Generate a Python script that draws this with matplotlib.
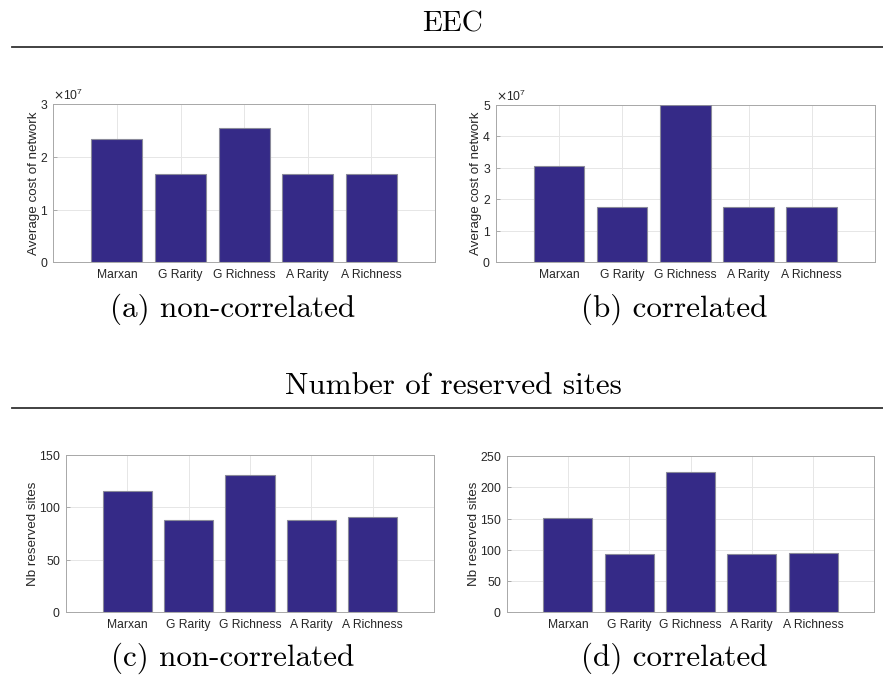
import matplotlib
matplotlib.use("Agg")
import matplotlib.pyplot as plt
from matplotlib.lines import Line2D

# data
methods = ["Marxan", "G Rarity", "G Richness", "A Rarity", "A Richness"]
eec_noncorr = [2.342e7, 1.671e7, 2.557e7, 1.671e7, 1.671e7]
eec_corr = [3.072e7, 1.748e7, 5.0e7, 1.748e7, 1.748e7]
sites_noncorr = [115.5, 88.3, 131.4, 88.3, 90.5]
sites_corr = [150.3, 93.8, 223.9, 93.8, 94.3]

W, H = 883, 675
BAR_COLOR = "#352a87"
plt.rcParams["font.family"] = ["Liberation Sans", "DejaVu Sans"]
plt.rcParams["axes.formatter.use_mathtext"] = True

fig = plt.figure(figsize=(W / 100, H / 100), dpi=100)


def px_axes(left, top, right, bottom):
    return fig.add_axes([left / W, 1 - bottom / H, (right - left) / W, (bottom - top) / H])


def bar_panel(ax, values, ylim, yticks, ylabel):
    x = range(1, len(values) + 1)
    ax.bar(x, values, width=0.8, color=BAR_COLOR, edgecolor="#8a8a9a", linewidth=0.8, zorder=3)
    ax.set_xlim(0, 6)
    ax.set_ylim(*ylim)
    ax.set_xticks(list(x))
    ax.set_xticklabels(methods)
    ax.set_yticks(yticks)
    ax.set_ylabel(ylabel, fontsize=9.6, color="#262626", labelpad=0)
    ax.grid(True, color="#e6e6e6", linewidth=0.7, zorder=0)
    ax.tick_params(direction="in", length=3, width=0.6, colors="#a0a0a0",
                   labelcolor="#262626", labelsize=8.7)
    ax.tick_params(axis="x", pad=5)
    for s in ax.spines.values():
        s.set_color("#a8a8a8")
        s.set_linewidth(0.7)
    ax.yaxis.get_offset_text().set_fontsize(8.7)
    ax.yaxis.get_offset_text().set_color("#262626")


ax_a = px_axes(53.3, 104.3, 435, 262.3)
bar_panel(ax_a, eec_noncorr, (0, 3e7), [0, 1e7, 2e7, 3e7], "Average cost of network")
ax_b = px_axes(495.7, 105, 875, 262.3)
bar_panel(ax_b, eec_corr, (0, 5e7), [0, 1e7, 2e7, 3e7, 4e7, 5e7], "Average cost of network")
ax_c = px_axes(65.7, 455.3, 434.3, 611.7)
bar_panel(ax_c, sites_noncorr, (0, 150), [0, 50, 100, 150], "Nb reserved sites")
ax_d = px_axes(506.7, 456, 874.3, 612.3)
bar_panel(ax_d, sites_corr, (0, 250), [0, 50, 100, 150, 200, 250], "Nb reserved sites")

serif = "cmr10"
fig.text(452 / W, 1 - 24 / H, "EEC", family=serif, fontsize=21, ha="center", va="center")
fig.text(453 / W, 1 - 386 / H, "Number of reserved sites", family=serif, fontsize=22.4,
         ha="center", va="center")
for y in (46.5, 408):
    fig.add_artist(Line2D([12 / W, 1], [1 - y / H, 1 - y / H], color="#333333", linewidth=1.3,
                          transform=fig.transFigure))

captions = [
    (233, 309, "(a) non-correlated"),
    (674, 309, "(b) correlated"),
    (233, 658, "(c) non-correlated"),
    (674, 658, "(d) correlated"),
]
for cx, cy, txt in captions:
    fig.text(cx / W, 1 - cy / H, txt, family=serif, fontsize=22.4, ha="center", va="center")

fig.savefig("out.png", dpi=100)
